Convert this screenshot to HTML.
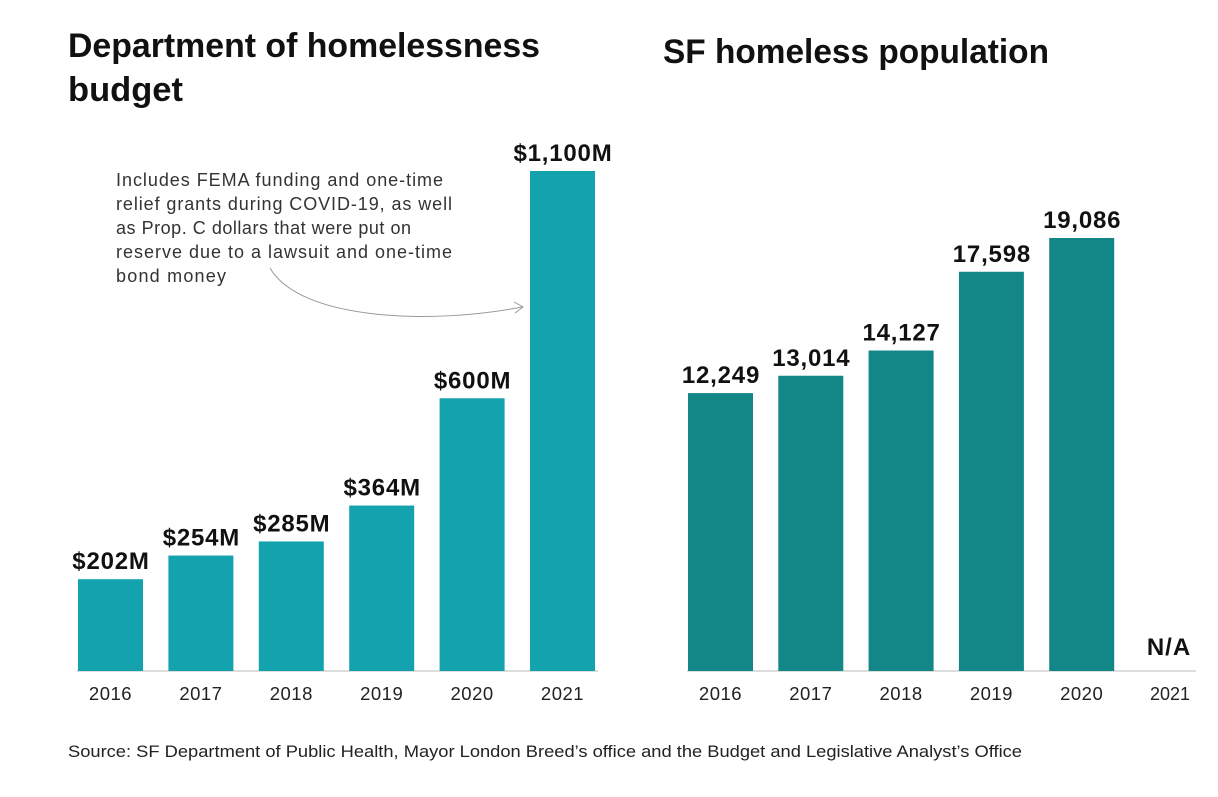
<!DOCTYPE html>
<html><head><meta charset="utf-8"><style>
body{margin:0;background:#fff;width:1218px;height:792px;overflow:hidden;font-family:"Liberation Sans",sans-serif}
</style></head><body>
<svg width="1218" height="792" id="svg">
<text x="68" y="57" font-size="34" font-weight="bold" fill="#111" textLength="472" lengthAdjust="spacingAndGlyphs">Department of homelessness</text>
<text x="68" y="101" font-size="34" font-weight="bold" fill="#111" textLength="115" lengthAdjust="spacingAndGlyphs">budget</text>
<text x="663" y="63" font-size="34" font-weight="bold" fill="#111" textLength="386" lengthAdjust="spacingAndGlyphs">SF homeless population</text>
<g font-size="18" fill="#333" lengthAdjust="spacingAndGlyphs">
<text x="116" y="186" textLength="327">Includes FEMA funding and one-time</text>
<text x="116" y="210" textLength="336">relief grants during COVID-19, as well</text>
<text x="116" y="234" textLength="295">as Prop. C dollars that were put on</text>
<text x="116" y="258" textLength="336">reserve due to a lawsuit and one-time</text>
<text x="116" y="282" textLength="110">bond money</text>
</g>
<path d="M270 268 C300 320 430 325 522 307" fill="none" stroke="#999" stroke-width="1"/>
<path d="M514 302 L523 307 L515 313" fill="none" stroke="#999" stroke-width="1"/>
<line x1="77" x2="598" y1="671" y2="671" stroke="#bbb"/>
<line x1="687" x2="1196" y1="671" y2="671" stroke="#bbb"/>
<text x="1169" y="655" text-anchor="middle" font-size="24" font-weight="bold" fill="#111" letter-spacing="1">N/A</text>
<text x="1170" y="700" text-anchor="middle" font-size="18" fill="#222">2021</text>
<text x="68" y="757" font-size="16.5" fill="#222" textLength="954" lengthAdjust="spacingAndGlyphs">Source: SF Department of Public Health, Mayor London Breed’s office and the Budget and Legislative Analyst’s Office</text>
</svg>
<script>
const budgetYears=["2016","2017","2018","2019","2020","2021"];
const budgetValues=[202,254,285,364,600,1100];
const budgetLabels=["$202M","$254M","$285M","$364M","$600M","$1,100M"];
const popYears=["2016","2017","2018","2019","2020"];
const popValues=[12249,13014,14127,17598,19086];
const popLabels=["12,249","13,014","14,127","17,598","19,086"];
const NS="http://www.w3.org/2000/svg",svg=document.getElementById('svg');
const base=671;
function mk(t,a){const e=document.createElementNS(NS,t);for(const k in a)e.setAttribute(k,a[k]);svg.appendChild(e);return e;}
function draw(years,vals,labels,x0,step,scale,color,pre){
 years.forEach((y,i)=>{
  const h=vals[i]*scale,x=x0+i*step;
  const r=mk('rect',{x:x,y:base-h,width:65,height:h,fill:color});
  
  
  const t=mk('text',{x:x+33,y:base-h-10,'text-anchor':'middle','font-size':24,'font-weight':'bold',fill:'#111','letter-spacing':'0.8'});
  t.textContent=labels[i];
  
  
  const l=mk('text',{x:x+32.5,y:700,'text-anchor':'middle','font-size':18.5,fill:'#222','letter-spacing':'0.5'});
  l.textContent=y;
  
  
 });
}
draw(budgetYears,budgetValues,budgetLabels,78,90.4,500/1100,'#14a3ae','budget');
draw(popYears,popValues,popLabels,688,90.3,433/19086,'#138788','population');
</script>
</body></html>
